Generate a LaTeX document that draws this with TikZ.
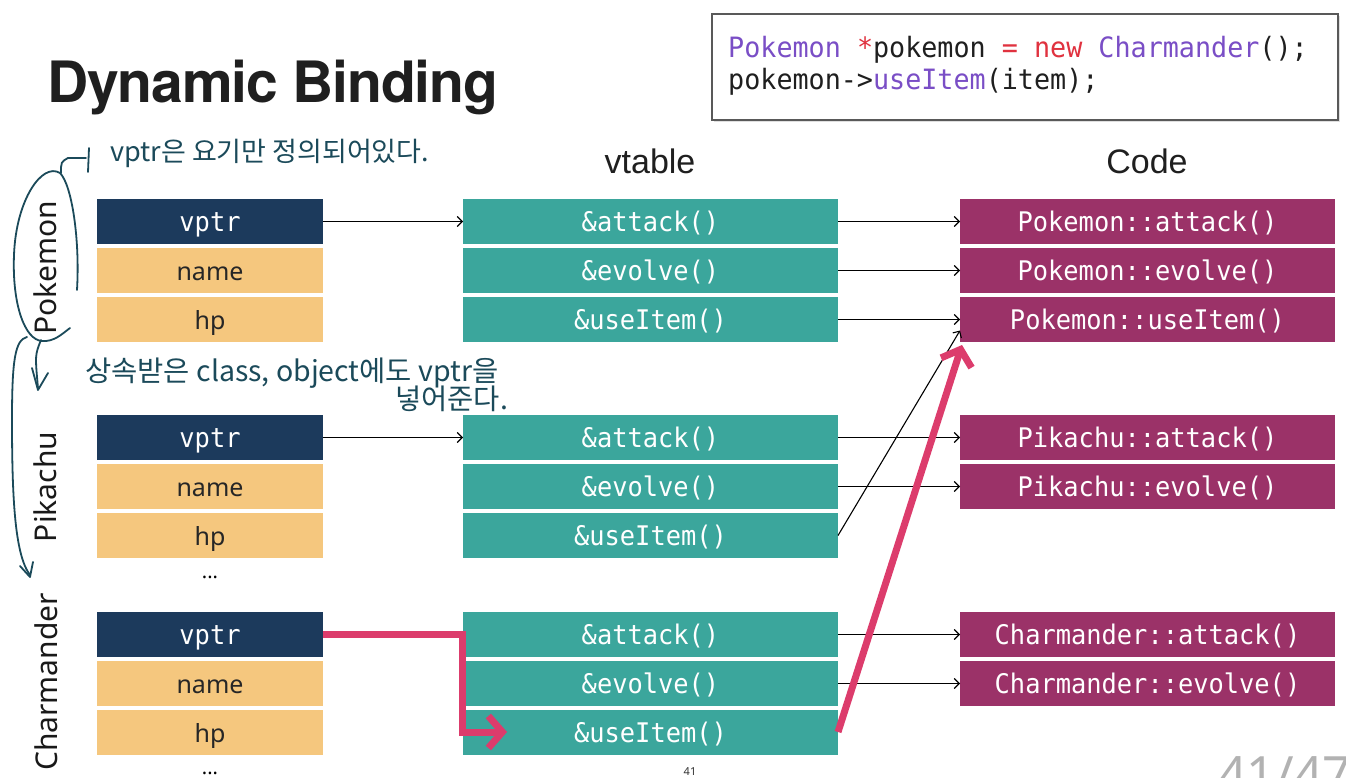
\documentclass[tikz,border=0pt]{standalone}
\usepackage{fontspec}
\setmainfont{Noto Sans}
\newfontfamily\boxmono[FakeStretch=0.94]{DejaVu Sans Mono}
\newfontfamily\codefont[FakeStretch=0.955]{DejaVu Sans Mono}
\newfontfamily\titlefont[LetterSpace=-2]{TeX Gyre Heros}
\newfontfamily\headfont{Liberation Sans}
\newfontfamily\handfont{Noto Sans CJK KR}
\usetikzlibrary{arrows.meta,shadows,calc}
\definecolor{navyc}{HTML}{1C3A5C}
\definecolor{sandc}{HTML}{F5C77E}
\definecolor{tealc}{HTML}{3BA69C}
\definecolor{plumc}{HTML}{9B3268}
\definecolor{hotc}{HTML}{DC3C6C}
\definecolor{inkc}{HTML}{1B4A5A}
\definecolor{kwpurple}{HTML}{7A4EC6}
\definecolor{kwred}{HTML}{E0323F}
\tikzset{
  cell/.style={minimum height=45pt, inner sep=0pt, outer sep=0pt, text height=22pt, text depth=2pt,
    font=\boxmono\fontsize{27}{30}\selectfont},
  ptrbox/.style={cell, fill=navyc, text=white, minimum width=226pt},
  fldbox/.style={cell, fill=sandc, text=black!85, minimum width=226pt, font=\fontsize{25}{28}\selectfont},
  vtbox/.style={cell, fill=tealc, text=white, minimum width=375pt},
  cdbox/.style={cell, fill=plumc, text=white, minimum width=375pt},
  link/.style={draw=black, line width=1.1pt, -{Straight Barb[length=5pt,width=10pt]}},
  hilite/.style={draw=hotc, line width=7pt, line join=miter, -{Straight Barb[length=14pt,width=32pt]}},
  handink/.style={draw=inkc, line width=1.8pt, line cap=round, line join=round},
  handtext/.style={text=inkc, inner sep=0pt, font=\handfont\fontsize{27}{30}\selectfont},
  classlabel/.style={rotate=90, anchor=base, inner sep=0pt, text=black!90, font=\fontsize{30}{34}\selectfont},
  dotsnode/.style={anchor=base, inner sep=0pt, font=\fontsize{20}{20}\selectfont},
  headlabel/.style={inner sep=0pt, text=black!88, font=\headfont\fontsize{34}{38}\selectfont},
  codebox/.style={draw=black!65, line width=1.2pt, fill=white, minimum width=626pt, minimum height=106pt,
    drop shadow={opacity=0.25, shadow xshift=2pt, shadow yshift=-2pt}},
  codeline/.style={anchor=base west, inner sep=0pt, text=black!88, font=\codefont\fontsize{28}{32}\selectfont}
}
\begin{document}
\begin{tikzpicture}[x=1pt, y=-1pt]
\useasboundingbox (0,0) rectangle (1346,778);
\fill[white] (0,0) rectangle (1346,778);

% title
\node[anchor=base west, inner sep=0pt, text=black!88, font=\titlefont\bfseries\fontsize{57}{60}\selectfont] (title) at (47,103) {Dynamic Binding};

% code box
\node[codebox] (cb) at (1025,67) {};
\node[codeline] (cl1) at (728,58) {\textcolor{kwpurple}{Pokemon} \textcolor{kwred}{*}pokemon \textcolor{kwred}{= new} \textcolor{kwpurple}{Charmander}();};
\node[codeline] (cl2) at (728,90) {pokemon->\textcolor{kwpurple}{useItem}(item);};

% headings
\node[headlabel] (hvt) at (650,161) {vtable};
\node[headlabel] (hcd) at (1147,161) {Code};

% class labels
\node[classlabel] (lp) at (56,268) {Pokemon};
\node[classlabel] (lk) at (56,487) {Pikachu};
\node[classlabel] (lc) at (57,682) {Charmander};

% objects
\node[ptrbox] (P1) at (210,221.5) {vptr};
\node[fldbox] (P2) at (210,270.5) {name};
\node[fldbox] (P3) at (210,319.5) {hp};
\node[ptrbox] (K1) at (210,437.5) {vptr};
\node[fldbox] (K2) at (210,486.5) {name};
\node[fldbox] (K3) at (210,535.5) {hp};
\node[dotsnode] (kd) at (210,578) {...};
\node[ptrbox] (C1) at (210,634.5) {vptr};
\node[fldbox] (C2) at (210,683.5) {name};
\node[fldbox] (C3) at (210,732) {hp};
\node[dotsnode] (cd) at (210,774) {...};

% vtables
\node[vtbox] (PV1) at (650.5,221.5) {\&attack()};
\node[vtbox] (PV2) at (650.5,270.5) {\&evolve()};
\node[vtbox] (PV3) at (650.5,319.5) {\&useItem()};
\node[vtbox] (KV1) at (650.5,437.5) {\&attack()};
\node[vtbox] (KV2) at (650.5,486.5) {\&evolve()};
\node[vtbox] (KV3) at (650.5,535.5) {\&useItem()};
\node[vtbox] (CV1) at (650.5,634.5) {\&attack()};
\node[vtbox] (CV2) at (650.5,683.5) {\&evolve()};
\node[vtbox] (CV3) at (650.5,732) {\&useItem()};

% code
\node[cdbox] (PC1) at (1147.5,221.5) {Pokemon::attack()};
\node[cdbox] (PC2) at (1147.5,270.5) {Pokemon::evolve()};
\node[cdbox] (PC3) at (1147.5,319.5) {Pokemon::useItem()};
\node[cdbox] (KC1) at (1147.5,437.5) {Pikachu::attack()};
\node[cdbox] (KC2) at (1147.5,486.5) {Pikachu::evolve()};
\node[cdbox] (CC1) at (1147.5,634.5) {Charmander::attack()};
\node[cdbox] (CC2) at (1147.5,683.5) {Charmander::evolve()};

% links
\draw[link] (P1.east) -- (PV1.west);
\draw[link] (PV1.east) -- (PC1.west);
\draw[link] (PV2.east) -- (PC2.west);
\draw[link] (PV3.east) -- (PC3.west);
\draw[link] (K1.east) -- (KV1.west);
\draw[link] (KV1.east) -- (KC1.west);
\draw[link] (KV2.east) -- (KC2.west);
\draw[link] (KV3.east) -- ([yshift=-11pt]PC3.west);
\draw[link] (CV1.east) -- (CC1.west);
\draw[link] (CV2.east) -- (CC2.west);

% highlighted path
\coordinate (ptip) at (507,732);
\draw[hilite] (C1.east) -| ([xshift=-1pt]CV3.west) -- (ptip);
\draw[hilite] (CV3.east) -- ([shift={(2pt,-3pt)}]PC3.south west);

% handwriting
\node[handtext, anchor=west] (h1) at (110,153) {vptr은 요기만 정의되어있다.};
\node[handtext, anchor=west, font=\handfont\fontsize{28.5}{30}\selectfont] (h2) at (85,373) {상속받은 class, object에도 vptr을};
\node[handtext, anchor=west, font=\handfont\fontsize{28.5}{30}\selectfont] (h3) at (395,399) {넣어준다.};

\draw[handink] (77,290) .. controls (80,240) and (72,185) .. (60,173)
  .. controls (42,162) and (16,200) .. (14,255)
  .. controls (12,305) and (25,340) .. (42,341)
  .. controls (54,342) and (62,334) .. (70,328);
\draw[handink] (61,173) .. controls (61,162) .. (68,158) -- (86,158);
\draw[handink] (89,148) -- (88,172);
\draw[handink] (41,340) .. controls (35,355) .. (38,388);
\draw[handink] (32,368) -- (38,390) -- (48,373);
\draw[handink] (27,337) .. controls (15,340) and (12,360) .. (12,420)
  .. controls (12,500) and (15,555) .. (30,575);
\draw[handink] (20,566) -- (30,577) -- (33,562);

% page numbers
\node[inner sep=0pt, text=black!80, font=\fontsize{11}{12}\selectfont] (pn) at (690,772) {41};
\node[anchor=base west, inner sep=0pt, text=black!30, font=\fontsize{50}{52}\selectfont] (pg) at (1218,792) {41/47};
\end{tikzpicture}
\end{document}
